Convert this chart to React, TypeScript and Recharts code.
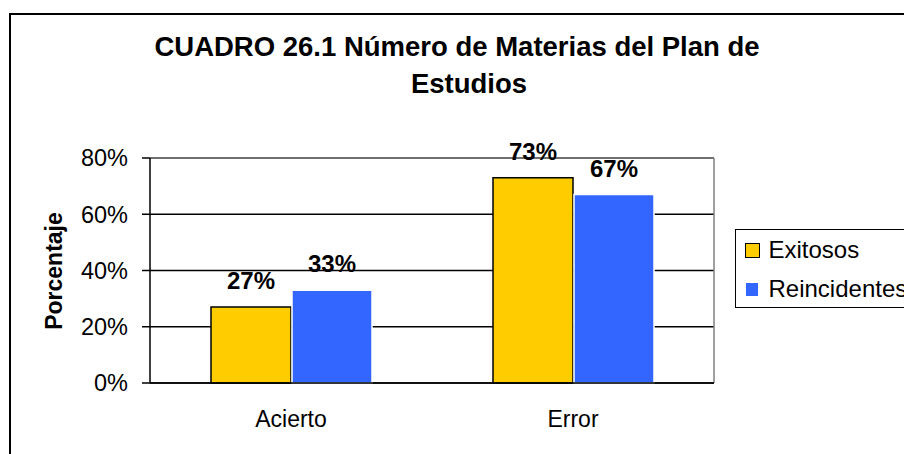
import { BarChart, Bar, XAxis, YAxis, CartesianGrid, ReferenceLine, LabelList } from 'recharts';

const categories = ['Acierto', 'Error'];
const exitosos = [27, 73];
const reincidentes = [33, 67];
const yTicks = [0, 20, 40, 60, 80];
const boundaryTicks = [0, 1, 2];

const data = categories.map((name, i) => ({
    name,
    pos: i + 0.5,
    exitosos: exitosos[i],
    reincidentes: reincidentes[i],
}));

const font = '"Liberation Sans", Arial, sans-serif';

function ChartLegend() {
    return (
        <div style={{ position: 'absolute', left: 727, top: 221, border: '1.5px solid #000', width: 220, height: 77, fontSize: 24, color: '#000' }}>
            <div style={{ position: 'absolute', left: 8.5, top: 12.5, width: 13, height: 13, background: '#ffcc00', border: '1.5px solid #000' }} />
            <div style={{ position: 'absolute', left: 32.5, top: 6, lineHeight: '28px' }}>Exitosos</div>
            <div style={{ position: 'absolute', left: 10, top: 52.5, width: 12, height: 13, background: '#3366ff' }} />
            <div style={{ position: 'absolute', left: 32.5, top: 45, lineHeight: '28px' }}>Reincidentes</div>
        </div>
    );
}

export default function App() {
    const pct = (v: any) => `${v}%`;
    const labelStyle = { fill: '#000', fontSize: 24, fontWeight: 'bold', fontFamily: font };
    const titleStyle = { position: 'absolute' as const, left: 0, textAlign: 'center' as const, fontSize: 27.5, fontWeight: 'bold', lineHeight: '32px', whiteSpace: 'nowrap' as const };
    return (
        <div style={{ position: 'relative', width: 904, height: 446, overflow: 'hidden', fontFamily: font }}>
            <div style={{ position: 'absolute', left: 1, top: 5, width: 1000, height: 1000, border: '2px solid #000' }} />
            <div style={{ ...titleStyle, width: 898, top: 22.5 }}>
                CUADRO 26.1 Número de Materias del Plan de
            </div>
            <div style={{ ...titleStyle, width: 922, top: 60 }}>
                Estudios
            </div>
            <div style={{ position: 'absolute', left: 46, top: 263, transform: 'translate(-50%, -50%) rotate(-90deg)', fontSize: 23, fontWeight: 'bold', whiteSpace: 'nowrap' }}>
                Porcentaje
            </div>
            <div style={{ position: 'absolute', left: 0, top: 0 }}>
                <BarChart width={904} height={446} data={data} barSize={80} barGap={1}
                    margin={{ top: 150, right: 198, bottom: 31, left: 0 }}>
                    <CartesianGrid vertical={false} stroke="#000" strokeWidth={1.5} />
                    <XAxis xAxisId="b" type="number" dataKey="pos" domain={[0, 2]} ticks={boundaryTicks} tick={false}
                        axisLine={false} tickSize={8} tickLine={{ stroke: '#000', strokeWidth: 1.5 }} height={0} />
                    <XAxis xAxisId="a" dataKey="name" tickLine={false} axisLine={{ stroke: '#000', strokeWidth: 1.5 }}
                        tick={{ fill: '#000', fontSize: 23, fontFamily: font }} tickMargin={22} height={40} />
                    <YAxis domain={[0, 80]} ticks={yTicks} tickFormatter={pct} width={142}
                        tick={{ fill: '#000', fontSize: 23.5, fontFamily: font }} tickSize={8} tickMargin={14}
                        axisLine={{ stroke: '#000', strokeWidth: 1.5 }} tickLine={{ stroke: '#000', strokeWidth: 1.5 }} />
                    <ReferenceLine y={80} xAxisId="a" stroke="#808080" strokeWidth={1.5} />
                    <ReferenceLine x={2} xAxisId="b" stroke="#808080" strokeWidth={1.5} />
                    <Bar dataKey="exitosos" xAxisId="a" fill="#ffcc00" stroke="#000" strokeWidth={1.5} isAnimationActive={false}>
                        <LabelList dataKey="exitosos" position="top" offset={18} formatter={pct} style={labelStyle} />
                    </Bar>
                    <Bar dataKey="reincidentes" xAxisId="a" fill="#3366ff" stroke="#fff" strokeWidth={1.5} isAnimationActive={false}>
                        <LabelList dataKey="reincidentes" position="top" offset={18} formatter={pct} style={labelStyle} />
                    </Bar>
                </BarChart>
            </div>
            <ChartLegend />
        </div>
    );
}
